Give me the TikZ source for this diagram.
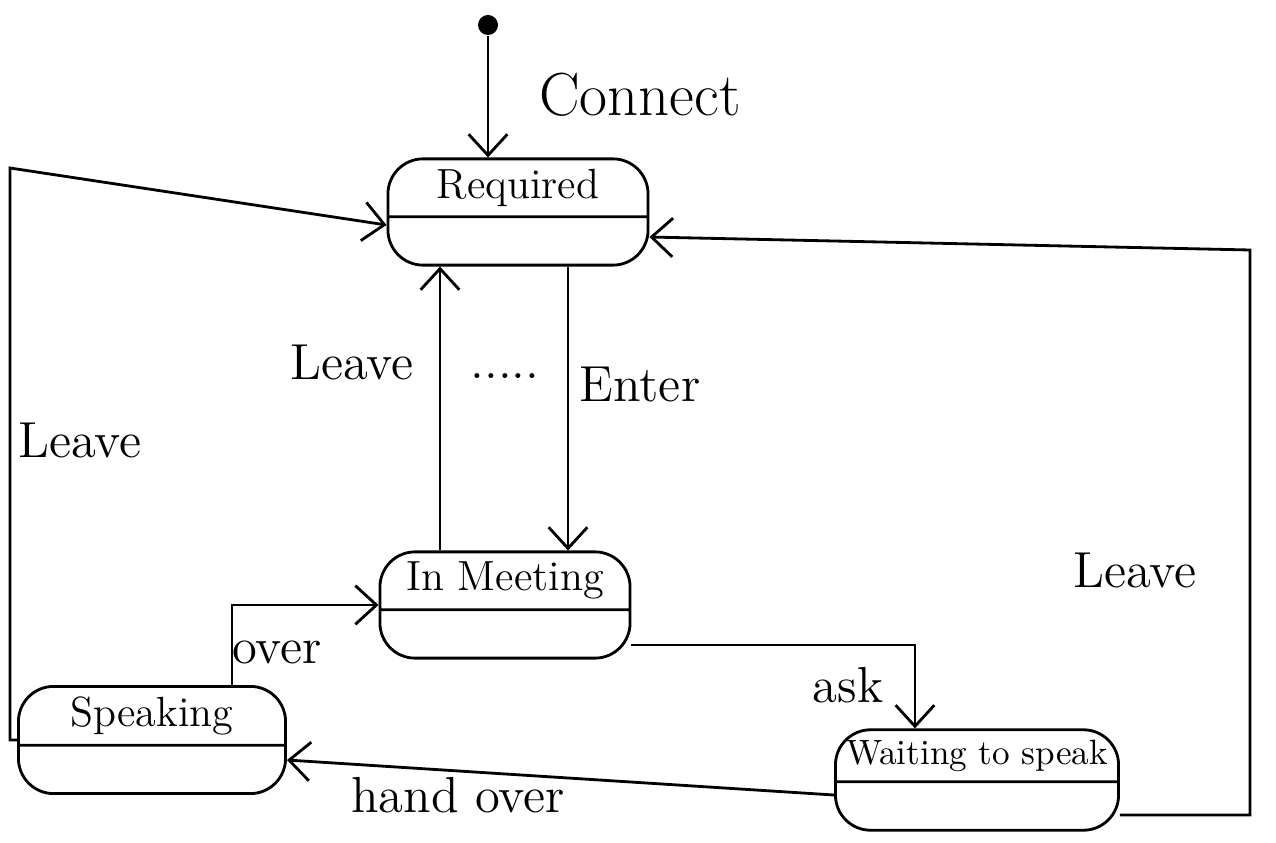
\documentclass[tikz,border=0pt]{standalone}
\usetikzlibrary{shapes.multipart,arrows.meta}
\begin{document}
\begin{tikzpicture}
  [x=0.01cm, y=-0.01cm,
   state/.style={rectangle split, rectangle split parts=2, draw=black, thick,
     rounded corners=10pt, inner ysep=2.5pt, font=\large,
     rectangle split empty part height=0.28cm},
   initial/.style={circle, fill=black, inner sep=0pt, minimum size=0.2cm},
   edge/.style={thick, draw=black, -{Straight Barb[length=6pt,width=11pt]}},
   lbl/.style={font=\Large}]

  \useasboundingbox (0,0) rectangle (1276,843);

  % States
  \node[initial] (start) at (488,25) {};
  \node[state, minimum width=2.6cm] (req) at (518,212) {Required\nodepart{two}};
  \node[state, minimum width=2.5cm] (meet) at (505,605) {In Meeting\nodepart{two}};
  \node[state, minimum width=2.67cm] (spk) at (152,740) {Speaking\nodepart{two}};
  \node[state, minimum width=2.75cm, inner xsep=3pt, font=\normalsize] (wait) at (977,780)
    {Waiting to speak\nodepart{two}};

  % Corner points of the long paths
  \coordinate (lefttop) at (10,168);
  \coordinate (leftbot) at (10,740);
  \coordinate (righttop) at (1250,250);
  \coordinate (rightbot) at (1250,815);
  \coordinate (leavex) at (440,0);
  \coordinate (enterx) at (568,0);
  \coordinate (overx) at (232,0);

  % Transitions
  \draw[edge] (start) -- (start |- req.north);
  \draw[edge] (req.south -| enterx) -- (meet.north -| enterx);
  \draw[edge] (meet.north -| leavex) -- (req.south -| leavex);
  \draw[edge] ([yshift=-0.4cm]meet.east) -| ([xshift=-0.62cm]wait.north);
  \draw[edge] (spk.north -| overx) |- (meet.west);
  \draw[edge] ([yshift=-0.15cm]wait.west) -- ([yshift=-0.2cm]spk.east);
  \draw[edge] (spk.west) -- (leftbot) -- (lefttop) -- ([yshift=-0.13cm]req.west);
  \draw[edge] ([yshift=-0.35cm]wait.east) -- (rightbot) -- (righttop) -- ([yshift=-0.25cm]req.east);

  % Labels
  \node[lbl, font=\LARGE] (lconnect) at (640,95) {Connect};
  \node[lbl] (lenter) at (640,385) {Enter};
  \node[lbl] (lleavein) at (352,362) {Leave};
  \node[lbl] (ldots) at (505,376) {.....};
  \node[lbl] (lleaveleft) at (80,440) {Leave};
  \node[lbl] (lleaveright) at (1135,570) {Leave};
  \node[lbl] (lask) at (848,685) {ask};
  \node[lbl] (lover) at (277,652) {over};
  \node[lbl] (lhand) at (458,795) {hand over};
\end{tikzpicture}
\end{document}
